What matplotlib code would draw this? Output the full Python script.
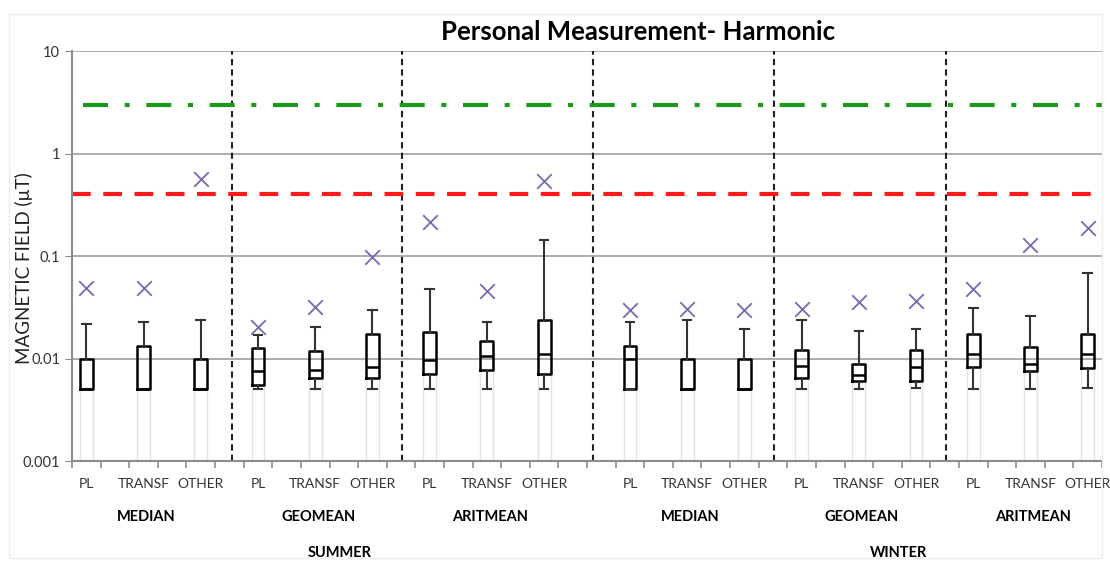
import matplotlib.pyplot as plt
from matplotlib.ticker import FixedLocator, NullFormatter

plt.rcParams['font.family'] = ['Lato', 'DejaVu Sans']

# categorias y valores (uT)
fuentes = ["PL", "TRANSF", "OTHER"]
estadisticos = ["MEDIAN", "GEOMEAN", "ARITMEAN"]
estaciones = ["SUMMER", "WINTER"]

# posicion de categoria de cada caja (eje de 36 categorias)
posiciones = [0, 2, 4, 6, 8, 10, 12, 14, 16, 19, 21, 23, 25, 27, 29, 31, 33, 35]

q1 = [0.005, 0.005, 0.005, 0.0055, 0.0065, 0.0065, 0.0071, 0.0078, 0.0071,
      0.005, 0.005, 0.005, 0.0065, 0.006, 0.006, 0.0082, 0.0075, 0.0081]
mediana = [0.005, 0.005, 0.005, 0.0075, 0.0078, 0.0082, 0.0096, 0.0105, 0.011,
           0.010, 0.005, 0.005, 0.0085, 0.0069, 0.0082, 0.011, 0.0089, 0.011]
q3 = [0.010, 0.0134, 0.010, 0.0126, 0.0118, 0.0174, 0.0181, 0.015, 0.0238,
      0.0134, 0.010, 0.010, 0.0122, 0.0089, 0.0122, 0.0174, 0.0129, 0.0174]
bigote_min = [0.005, 0.005, 0.005, 0.005, 0.005, 0.005, 0.005, 0.005, 0.005,
              0.005, 0.005, 0.005, 0.005, 0.005, 0.0052, 0.005, 0.005, 0.0052]
bigote_max = [0.0219, 0.023, 0.024, 0.017, 0.0202, 0.030, 0.048, 0.0226, 0.145,
              0.0226, 0.024, 0.0195, 0.024, 0.0188, 0.0195, 0.031, 0.026, 0.069]
media = [0.049, 0.049, 0.57, 0.0205, 0.032, 0.097, 0.217, 0.046, 0.545,
         0.030, 0.0305, 0.030, 0.0305, 0.0354, 0.0368, 0.048, 0.127, 0.186]

limite_verde = 3.0
limite_rojo = 0.4
separadores = [5.1, 11.05, 17.7, 24.05, 30.05]

fig = plt.figure(figsize=(11.1, 5.61), dpi=100)
ax = fig.add_axes([0.0649, 0.178, 0.9279, 0.731])

ax.set_yscale("log")
ax.set_ylim(0.001, 10)
ax.set_xlim(-0.5, 35.5)

# rejilla horizontal
for v in [0.01, 0.1, 1, 10]:
    ax.axhline(v, color="#a6a6a6", lw=1.3, zorder=0)

ax.axhline(limite_verde, xmin=0.011, color="#1a9a1a", lw=3, ls=(0, (6, 4, 1.2, 4)), zorder=2)
ax.axhline(limite_rojo, color="#ff1a1a", lw=3, ls=(0, (4.5, 3)), zorder=2)

for s in separadores:
    ax.axvline(s, color="#222222", lw=1.5, ls=(0, (3, 2)), zorder=1)

# lineas tenues bajo cada caja
ancho = 0.45
for p, b in zip(posiciones, q1):
    ax.vlines([p - ancho / 2, p + ancho / 2], 0.001, b, color="#e3e3e3", lw=1, zorder=1)

stats = []
for i in range(len(posiciones)):
    stats.append({"med": mediana[i], "q1": q1[i], "q3": q3[i],
                  "whislo": bigote_min[i], "whishi": bigote_max[i], "fliers": []})

ax.bxp(stats, positions=posiciones, widths=ancho, capwidths=0.3, showfliers=False,
       boxprops=dict(color="black", lw=1.8),
       medianprops=dict(color="black", lw=1.8),
       whiskerprops=dict(color="#333333", lw=1.5),
       capprops=dict(color="#333333", lw=1.5),
       manage_ticks=False, zorder=3)

ax.scatter(posiciones, media, marker="x", s=110, color="#7b68b0", lw=1.3, zorder=4)

# ejes
for lado in ["top", "right"]:
    ax.spines[lado].set_visible(False)
for lado in ["left", "bottom"]:
    ax.spines[lado].set_color("#8c8c8c")
    ax.spines[lado].set_linewidth(1.5)

ax.set_yticks([0.001, 0.01, 0.1, 1, 10])
ax.set_yticklabels(["0.001", "0.01", "0.1", "1", "10"])
ax.yaxis.set_minor_locator(FixedLocator([]))
ax.tick_params(axis="y", length=5, color="#8c8c8c", labelsize=10.5, labelcolor="#333333")

etiquetas = fuentes * (len(estadisticos) * len(estaciones))
ax.set_xticks(posiciones)
ax.set_xticklabels(etiquetas)
ax.tick_params(axis="x", which="major", length=0, pad=12, labelsize=10, labelcolor="#333333")
ax.xaxis.set_minor_locator(FixedLocator([k - 0.5 for k in range(37)]))
ax.xaxis.set_minor_formatter(NullFormatter())
ax.tick_params(axis="x", which="minor", length=5, color="#8c8c8c", width=1.2)

ax.set_ylabel("MAGNETIC FIELD (\u00b5T)", fontsize=13.5, color="#222222")
ax.yaxis.set_label_coords(-0.047, 0.47)
ax.yaxis.label.set_va("center")

# etiquetas de grupo
trans = ax.get_xaxis_transform()
for k in range(len(estaciones) * len(estadisticos)):
    centro = posiciones[3 * k + 1]
    ax.text(centro + 0.1, -0.135, estadisticos[k % 3], transform=trans, ha="center",
            va="center", fontsize=10.5, fontweight="bold")
ax.text(8.85, -0.225, estaciones[0], transform=trans, ha="center", va="center",
        fontsize=10.5, fontweight="bold")
ax.text(28.4, -0.225, estaciones[1], transform=trans, ha="center", va="center",
        fontsize=10.5, fontweight="bold")

fig.text(0.575, 0.943, "Personal Measurement- Harmonic", ha="center", va="center",
         fontsize=18.5, fontweight="bold")

# marco tenue de la figura
fig.patches.append(plt.Rectangle((0.008, 0.005), 0.985, 0.97, transform=fig.transFigure,
                                 fill=False, ec="#eeeeee", lw=1))

fig.savefig("out.png", dpi=100)
